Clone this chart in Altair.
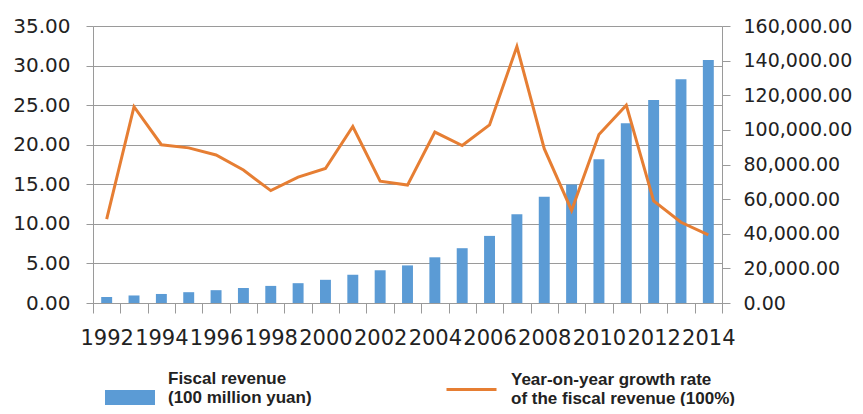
import altair as alt
import pandas as pd

years = [str(y) for y in range(1992, 2015)]
revenue = [3483.37, 4348.95, 5218.10, 6242.20, 7407.99, 8651.14, 9875.95, 11444.08,
           13395.23, 16386.04, 18903.64, 21715.25, 26396.47, 31649.29, 38760.20,
           51321.78, 61330.35, 68518.30, 83101.51, 103874.43, 117253.52, 129209.64,
           140370.03]
growth = [10.6, 24.8, 20.0, 19.6, 18.7, 16.8, 14.2, 15.9, 17.0, 22.3, 15.4, 14.9,
          21.6, 19.9, 22.5, 32.4, 19.5, 11.7, 21.3, 25.0, 12.9, 10.2, 8.6]
left_ticks = [0, 5, 10, 15, 20, 25, 30, 35]
right_ticks = [0, 20000, 40000, 60000, 80000, 100000, 120000, 140000, 160000]
bar_name = "Fiscal revenue|\u00a0(100 million yuan)"
line_name = "Year-on-year growth rate|\u00a0of the fiscal revenue (100%)"

df = pd.DataFrame({
    "year": years,
    "revenue": revenue,
    "growth": growth,
    "s1": [bar_name] * len(years),
    "s2": [line_name] * len(years),
})

AXFONT = "DejaVu Sans"
GRAY = "#9a9a9a"
TXT = "#222222"

x_enc = alt.X(
    "year:O",
    sort=years,
    scale=alt.Scale(paddingInner=0, paddingOuter=0),
    axis=alt.Axis(
        title=None, labelAngle=0, labelOverlap=False, labelBound=False,
        labelExpr="parseInt(datum.value) % 2 == 0 ? datum.label : ''",
        tickBand="extent", tickSize=10, tickColor=GRAY, domainColor=GRAY,
        labelPadding=14, labelFont=AXFONT, labelFontSize=21, labelColor=TXT,
        grid=False,
    ),
)

legend_common = dict(
    title=None, orient="none", padding=0, labelLimit=0,
    labelExpr="split(datum.label, '|')",
    labelFont="Liberation Sans", labelFontSize=17, labelFontWeight="bold",
    labelColor=TXT, labelOffset=13, symbolSize=2500,
)

bars = alt.Chart(df).mark_bar(width=alt.RelativeBandSize(0.4)).encode(
    x=x_enc,
    y=alt.Y(
        "revenue:Q",
        scale=alt.Scale(domain=[0, 160000]),
        axis=alt.Axis(
            orient="right", title=None, values=right_ticks, format=",.2f",
            grid=False, tickSize=8, tickColor=GRAY, domainColor=GRAY,
            labelPadding=13, labelFont=AXFONT, labelFontSize=19, labelColor=TXT,
        ),
    ),
    color=alt.Color(
        "s1:N",
        scale=alt.Scale(range=["#5B9BD5"]),
        legend=alt.Legend(
            legendX=12, legendY=328,
            symbolType="M-1,0.44H1V1.04H-1Z", symbolStrokeWidth=0,
            **legend_common,
        ),
    ),
)

line = alt.Chart(df).mark_line(strokeWidth=3).encode(
    x=x_enc,
    y=alt.Y(
        "growth:Q",
        scale=alt.Scale(domain=[0, 35]),
        axis=alt.Axis(
            orient="left", title=None, values=left_ticks, format=".2f",
            grid=True, gridColor=GRAY, gridWidth=1.2,
            tickSize=7, tickColor=GRAY, domainColor=GRAY,
            labelPadding=16, labelFont=AXFONT, labelFontSize=20, labelColor=TXT,
        ),
    ),
    color=alt.Color(
        "s2:N",
        scale=alt.Scale(range=["#E67E33"]),
        legend=alt.Legend(
            legendX=352, legendY=327,
            symbolType="M-1,0.4H1", symbolStrokeWidth=3,
            **legend_common,
        ),
    ),
)

chart = alt.layer(bars, line).resolve_scale(
    y="independent", color="independent"
).resolve_legend(color="independent").properties(
    width=629,
    height=277,
    padding={"left": 85, "top": 18, "right": 133, "bottom": 103},
    autosize=alt.AutoSizeParams(type="none"),
).configure_view(stroke=None).configure(background="white")

chart.save("out.html", embed_options={"renderer": "svg", "actions": False})
